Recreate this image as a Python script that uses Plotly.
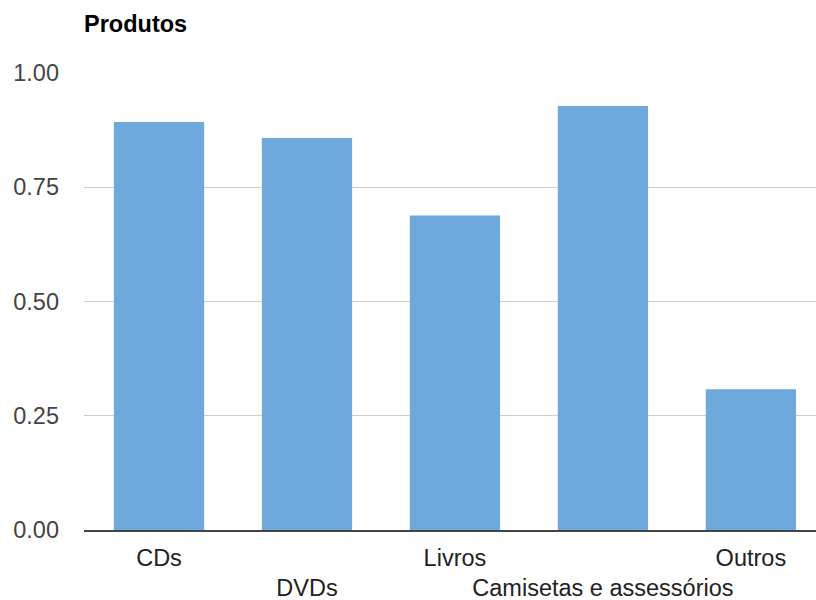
import plotly.graph_objects as go

categories = ["CDs", "DVDs", "Livros", "Camisetas e assessórios", "Outros"]
values = [0.893, 0.858, 0.688, 0.928, 0.308]
y_ticks = [0.0, 0.25, 0.5, 0.75, 1.0]

idx = list(range(len(categories)))
row1 = [i for i in idx if i % 2 == 0]
row2 = [i for i in idx if i % 2 == 1]

fig = go.Figure()
fig.add_trace(go.Bar(x=idx, y=values, width=0.61, marker=dict(color="#6fa8dc", line=dict(width=0)),
                     hoverinfo="skip"))
# invisible helper so the second label row axis is drawn
fig.add_trace(go.Scatter(x=row2, y=[0] * len(row2), xaxis="x2", mode="markers",
                         marker=dict(opacity=0), hoverinfo="skip"))

FS = 23.5
font = dict(family="Liberation Sans, Arial, sans-serif", size=FS, color="#222222")
xrange = [-0.507, 4.44]

fig.update_layout(
    width=816, height=600,
    margin=dict(l=84, r=0, t=73, b=70, autoexpand=False),
    paper_bgcolor="white", plot_bgcolor="white",
    showlegend=False,
    font=font,
    title=dict(text="<b>Produtos</b>", x=0, xref="paper", xanchor="left",
               y=1 - 24 / 600, yref="container", yanchor="middle",
               font=dict(family="Liberation Sans, Arial, sans-serif", size=FS, color="#000000")),
    xaxis=dict(range=xrange, tickmode="array", tickvals=row1,
               ticktext=[categories[i] for i in row1], showgrid=False, zeroline=False,
               showline=True, linecolor="#444444", linewidth=1.5, ticks="", automargin=False,
               ticklabelstandoff=6, tickfont=font, fixedrange=True),
    xaxis2=dict(range=xrange, overlaying="x", anchor="y", side="bottom", tickmode="array",
                tickvals=row2, ticktext=[categories[i] for i in row2], showgrid=False,
                zeroline=False, showline=False, ticks="", ticklabelstandoff=41, automargin=False,
                tickfont=font, fixedrange=True),
    yaxis=dict(range=[0, 1], tickmode="array", tickvals=y_ticks, tickformat=".2f",
               showgrid=True, gridcolor="#cccccc", gridwidth=1, zeroline=False,
               ticks="", ticklabelstandoff=24, automargin=False,
               tickfont=dict(family="Liberation Sans, Arial, sans-serif", size=FS, color="#444444"),
               fixedrange=True),
)

fig.write_html("out.html", config={"displayModeBar": False},
               post_script="document.body.style.margin='0px';")
